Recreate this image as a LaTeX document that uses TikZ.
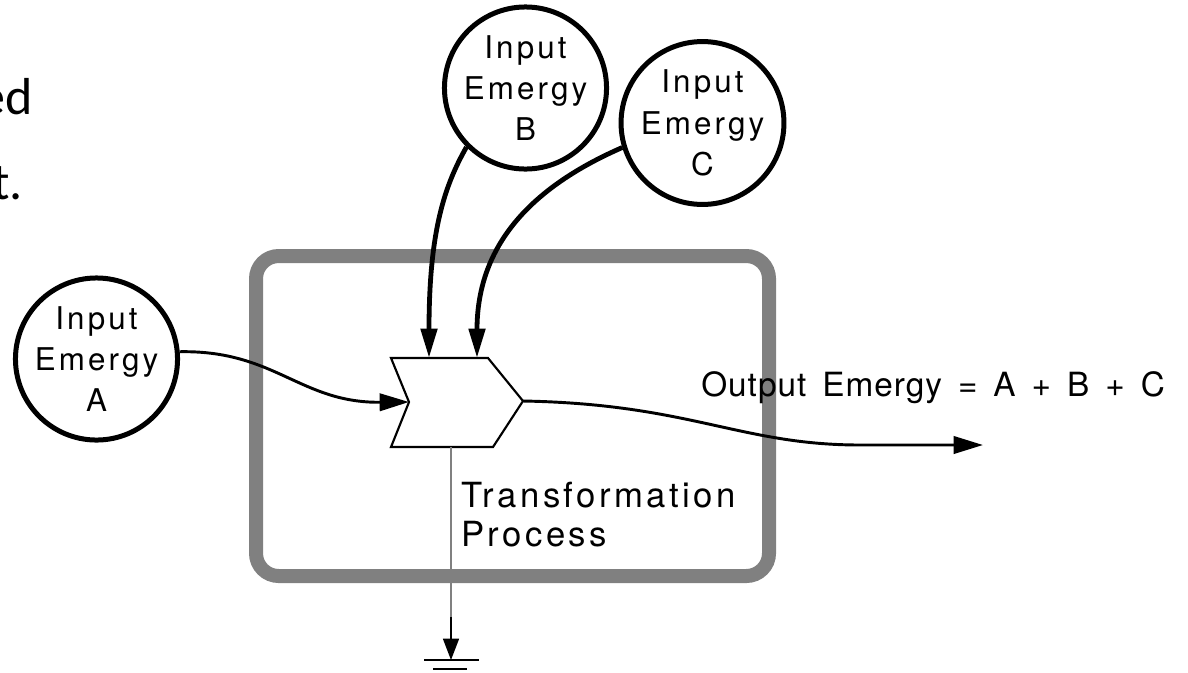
\documentclass[tikz,border=0pt]{standalone}
\usepackage{fontspec}
\setmainfont{TeX Gyre Heros}
\newfontfamily\circfont[LetterSpace=10]{TeX Gyre Heros}
\newfontfamily\procfont[LetterSpace=10]{TeX Gyre Heros}
\newfontfamily\outfont[LetterSpace=3]{TeX Gyre Heros}
\newfontfamily\slidefont{Carlito}
\usetikzlibrary{arrows.meta}
\definecolor{boxgray}{HTML}{808080}
\newcommand{\gap}{\hspace{12pt}}

\begin{document}
\begin{tikzpicture}[x=0.75pt,y=-0.75pt,
  source/.style={circle, draw, line width=3.75pt, minimum size=114pt,
    inner sep=0pt, align=center, font=\circfont\fontsize{23.5}{31}\selectfont},
  heavyflow/.style={line width=3.6pt, -{Triangle[length=22pt,width=12pt]}},
  flow/.style={line width=2.2pt, -{Triangle[length=22pt,width=13pt]}},
  sinkflow/.style={line width=1.1pt, -{Triangle[length=16pt,width=12pt]}},
  label/.style={inner sep=0pt, align=left},
  slide/.style={inner sep=0pt, font=\slidefont\fontsize{39}{46}\selectfont}]

\useasboundingbox (0,0) rectangle (1188,672);

% cut-off slide text on the left
\node[slide, anchor=base east] (ed) at (33,114) {ed};
\node[slide, anchor=base east] (dot) at (23,199) {t.};

% system boundary
\node[draw=boxgray, line width=10.5pt, rounded corners=17pt,
      minimum width=384.75pt, minimum height=240pt] (box) at (512.5,416) {};

% energy sources
\node[source] (A) at (96.5,359) {Input\\Emergy\\A};
\node[source] (B) at (525.5,88) {Input\\Emergy\\B};
\node[source, minimum size=117pt] (C) at (702.5,123) {Input\\Emergy\\C};

% interaction (transformation) symbol
\coordinate (tl) at (391,358);
\coordinate (tr) at (488,358);
\coordinate (tip) at (523,401);
\coordinate (br) at (493,447);
\coordinate (bl) at (391,447);
\coordinate (notch) at (409,402);
\coordinate (inB) at (429,358);
\coordinate (inC) at (477,358);
\coordinate (bot) at (451,447);
\coordinate (mid) at (451,617);
\coordinate (gnd) at (451,660);
\coordinate (out) at (983,445);

\draw[line width=1.6pt, fill=white, line join=miter]
  (tl) -- (tr) -- (tip) -- (br) -- (bl) -- (notch) -- cycle;

% inflows
\draw[flow] (A.5) .. controls (275,350) and (300,403) .. (notch);
\draw[heavyflow] (B.225) .. controls (445,185) and (429,230) .. (inB);
\draw[heavyflow] (C.197) .. controls (525,190) and (477,250) .. (inC);

% outflow
\draw[flow] (tip) .. controls (690,404) and (740,445) .. (860,445) -- (out);

% degraded energy to heat sink
\draw[boxgray, line width=1pt] (bot) -- (mid);
\draw[sinkflow] (mid) -- (gnd);
\draw[line width=1.5pt] (424,660) -- (479,660);
\draw[line width=1.5pt] (433,669) -- (467,669);

% labels
\node[label, anchor=north west, font=\procfont\fontsize{26}{29}\selectfont]
  (proc) at (461,482) {Transformation\\Process};
\node[label, anchor=base west, font=\outfont\fontsize{25}{29}\selectfont]
  (outlab) at (701,396) {Output\gap Emergy\gap =\gap A\gap +\gap B\gap +\gap C};
\end{tikzpicture}
\end{document}
